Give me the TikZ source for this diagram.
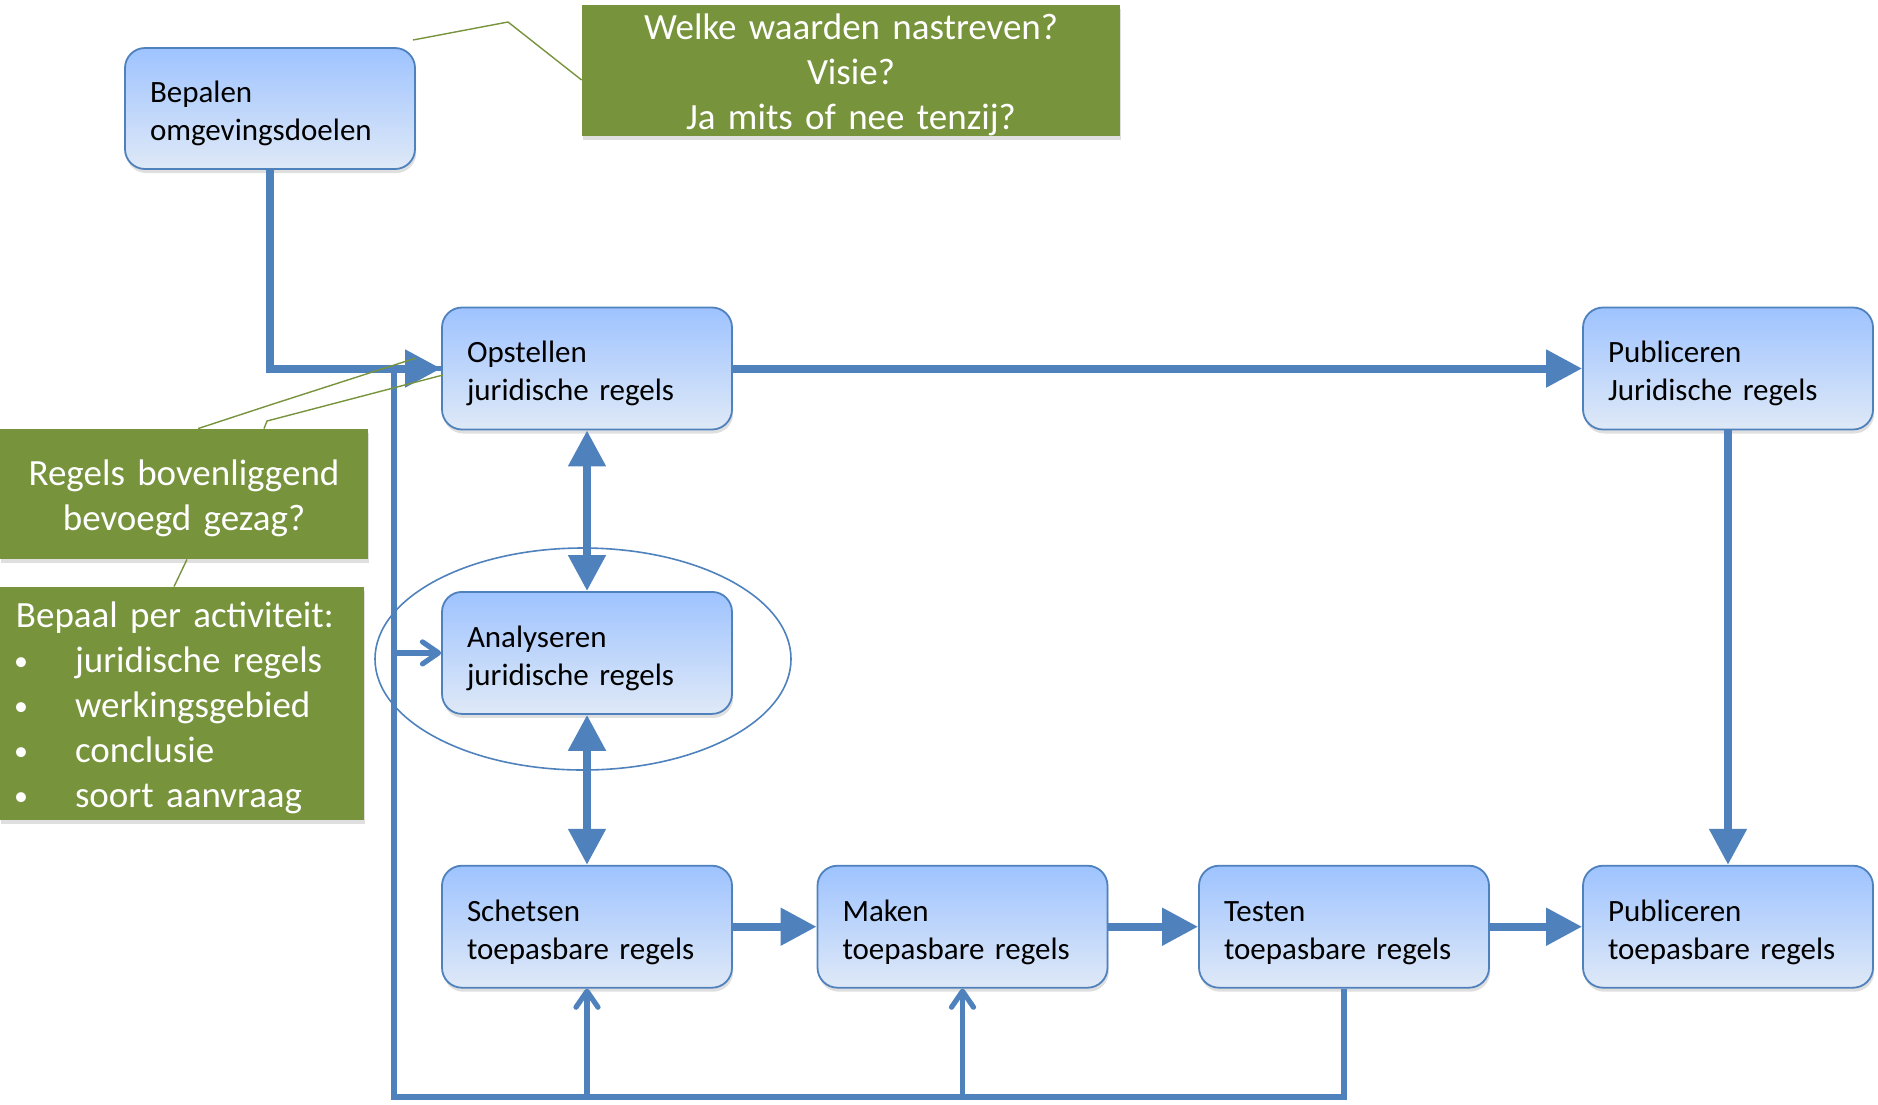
\documentclass[tikz,border=0pt]{standalone}
\usepackage{fontspec}
\setmainfont{Carlito}
\usetikzlibrary{arrows.meta,positioning,shadows}

\definecolor{stepline}{RGB}{79,129,189}
\definecolor{steptop}{RGB}{158,195,255}
\definecolor{stepbottom}{RGB}{223,233,247}
\definecolor{noteback}{RGB}{119,147,60}

\newcommand{\noteitem}{\hspace*{-1pt}\makebox[30.5pt][l]{\raisebox{1pt}{\fontsize{14}{14}\selectfont\textbullet}}}

\tikzset{
    stepbox/.style={draw=stepline, line width=0.9pt, rounded corners=10pt,
        top color=steptop, bottom color=stepbottom,
        minimum width=145pt, minimum height=61pt, text width=120pt,
        inner xsep=12.5pt, align=left, font=\fontsize{15.5}{19}\selectfont,
        execute at begin node={\rule{0pt}{16pt}},
        drop shadow={opacity=0.25, shadow xshift=0.6pt, shadow yshift=-2pt}},
    notebox/.style={fill=noteback, text=white, inner sep=0pt,
        font=\fontsize{18.5}{22.5}\selectfont,
        execute at begin node={\rule{0pt}{17pt}},
        drop shadow={opacity=0.25, shadow xshift=0.6pt, shadow yshift=-2pt}},
    bigarrow/.style={draw=stepline, line width=4pt,
        -{Triangle[length=18pt,width=18pt]}},
    bothways/.style={bigarrow, {Triangle[length=18pt,width=18pt]}-{Triangle[length=18pt,width=18pt]}},
    loopline/.style={draw=stepline, line width=2.6pt},
    thinarrow/.style={loopline, -{Straight Barb[length=8pt,width=11pt,round]}},
    calloutline/.style={draw=noteback, line width=0.7pt},
}

\begin{document}
\begin{tikzpicture}[x=0.5pt, y=-0.5pt]
    \useasboundingbox (0,0) rectangle (1878,1104);

    % processtappen
    \node[stepbox, minimum height=60.5pt] (bepalen) at (270,108.5) {Bepalen\\omgevingsdoelen};
    \node[stepbox] (opstellen) at (587,368.5) {Opstellen\\juridische regels};
    \node[stepbox] (pubjur) at (1728,368.5) {Publiceren\\Juridische regels};
    \node[stepbox, below=80.3pt of opstellen] (analyseren) {Analyseren\\juridische regels};
    \node[stepbox, below=75pt of analyseren] (schetsen) {Schetsen\\toepasbare regels};
    \node[stepbox] (maken) at (962.5,926.7) {Maken\\toepasbare regels};
    \node[stepbox] (testen) at (1344,926.7) {Testen\\toepasbare regels};
    \node[stepbox] (pubtoe) at (1728,926.7) {Publiceren\\toepasbare regels};

    % vragen
    \node[notebox, align=center, text width=269pt, minimum height=64.5pt] (welke) at (851,70.5)
        {Welke waarden nastreven?\\Visie?\\Ja mits of nee tenzij?};
    \node[notebox, align=center, text width=184pt, minimum height=65pt] (regels) at (184,494)
        {Regels bovenliggend\\bevoegd gezag?};
    \node[notebox, align=left, text width=166pt, inner xsep=8pt, minimum height=116.5pt] (bepaal) at (182,703.5)
        {Bepaal per activiteit:\\
        \noteitem juridische regels\\
        \noteitem werkingsgebied\\
        \noteitem conclusie\\
        \noteitem soort aanvraag};

    \draw[draw=stepline, line width=0.8pt] (583,659) ellipse [x radius=104pt, y radius=55.5pt];

    % terugkoppeling
    \coordinate (loopleft) at (394,1097);
    \draw[loopline] (testen.south) |- (loopleft) |- (opstellen.west);
    \draw[thinarrow] (schetsen.south |- loopleft) -- (schetsen.south);
    \draw[thinarrow] (maken.south |- loopleft) -- (maken.south);
    \draw[thinarrow] (loopleft |- analyseren.west) -- (analyseren.west);

    % hoofdstroom
    \draw[bigarrow] (bepalen.south) |- (opstellen.west);
    \draw[bigarrow] (opstellen) -- (pubjur);
    \draw[bigarrow] (pubjur) -- (pubtoe);
    \draw[bothways] (opstellen) -- (analyseren);
    \draw[bothways] (analyseren) -- (schetsen);
    \draw[bigarrow] (schetsen) -- (maken);
    \draw[bigarrow] (maken) -- (testen);
    \draw[bigarrow] (testen) -- (pubtoe);

    % verwijslijnen
    \coordinate (welkebend) at (508,22);
    \coordinate (welketip) at (413,40);
    \draw[calloutline] ([yshift=-4.75pt]welke.west) -- (welkebend) -- (welketip);
    \coordinate (regelsbend) at (270,405);
    \coordinate (regelstip) at (416,358);
    \draw[calloutline] ([xshift=7pt]regels.north) -- (regelsbend) -- (regelstip);
    \coordinate (regelsknik) at (267,421);
    \coordinate (regelspunt) at (443,375);
    \draw[calloutline] ([xshift=40pt]regels.north) -- (regelsknik) -- (regelspunt);
    \draw[calloutline] ([xshift=1.5pt]regels.south) -- ([xshift=-4pt]bepaal.north);
\end{tikzpicture}
\end{document}
